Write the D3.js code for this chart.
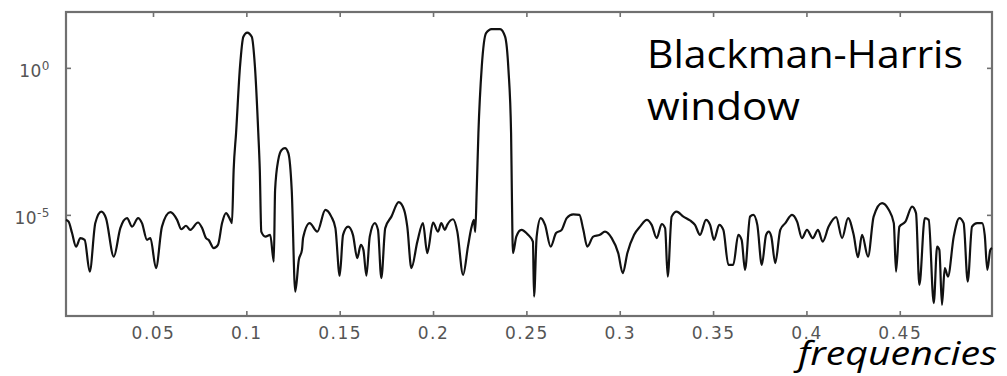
<!DOCTYPE html>
<html lang="en">
<head>
<meta charset="utf-8">
<title>Blackman-Harris window</title>
<script src="https://cdn.jsdelivr.net/npm/d3@7"></script>
<style>
  body { margin: 0; background: #fff; }
  .axis path { display: none; }
  .axis line { stroke: #707070; stroke-width: 1.6px; }
  .axis text { fill: #555; font-family: "DejaVu Sans", sans-serif; font-size: 17px; letter-spacing: 1.5px; }
</style>
</head>
<body>
<script>
// spectrum: frequency, log10(magnitude)
var freq = [0.0034, 0.0048, 0.0066, 0.0088, 0.0111, 0.0134, 0.0161, 0.0191, 0.0223, 0.0248,
  0.0290, 0.0325, 0.0361, 0.0388, 0.0420, 0.0441, 0.0468, 0.0486, 0.0516, 0.0548,
  0.0593, 0.0629, 0.0652, 0.0677, 0.0700, 0.0741, 0.0763, 0.0784, 0.0798, 0.0825,
  0.0848, 0.0870, 0.0891, 0.0914, 0.0923, 0.0932, 0.0945, 0.0966, 0.0984, 0.1005,
  0.1029, 0.1046, 0.1064, 0.1072, 0.1080, 0.1102, 0.1128, 0.1147, 0.1154, 0.1171,
  0.1189, 0.1207, 0.1225, 0.1243, 0.1262, 0.1281, 0.1298, 0.1304, 0.1339, 0.1380,
  0.1423, 0.1455, 0.1477, 0.1500, 0.1518, 0.1545, 0.1571, 0.1594, 0.1613, 0.1627,
  0.1643, 0.1661, 0.1688, 0.1705, 0.1723, 0.1744, 0.1777, 0.1816, 0.1845, 0.1862,
  0.1884, 0.1916, 0.1946, 0.1969, 0.2000, 0.2027, 0.2044, 0.2063, 0.2076, 0.2107,
  0.2130, 0.2161, 0.2187, 0.2205, 0.2219, 0.2226, 0.2234, 0.2243, 0.2261, 0.2284,
  0.2314, 0.2359, 0.2386, 0.2404, 0.2418, 0.2422, 0.2428, 0.2446, 0.2473, 0.2509,
  0.2535, 0.2541, 0.2555, 0.2577, 0.2600, 0.2630, 0.2659, 0.2689, 0.2716, 0.2751,
  0.2784, 0.2805, 0.2826, 0.2858, 0.2894, 0.2921, 0.2957, 0.2992, 0.3016, 0.3041,
  0.3077, 0.3109, 0.3145, 0.3171, 0.3198, 0.3225, 0.3243, 0.3257, 0.3278, 0.3305,
  0.3341, 0.3376, 0.3403, 0.3430, 0.3462, 0.3484, 0.3505, 0.3533, 0.3555, 0.3582,
  0.3608, 0.3635, 0.3653, 0.3671, 0.3698, 0.3716, 0.3737, 0.3761, 0.3784, 0.3798,
  0.3812, 0.3833, 0.3860, 0.3887, 0.3923, 0.3950, 0.3976, 0.4003, 0.4034, 0.4062,
  0.4087, 0.4119, 0.4159, 0.4191, 0.4223, 0.4253, 0.4276, 0.4298, 0.4330, 0.4360,
  0.4405, 0.4441, 0.4468, 0.4480, 0.4498, 0.4530, 0.4566, 0.4587, 0.4605, 0.4634,
  0.4655, 0.4682, 0.4700, 0.4712, 0.4726, 0.4741, 0.4758, 0.4789, 0.4819, 0.4842,
  0.4864, 0.4887, 0.4914, 0.4941, 0.4955, 0.4969, 0.4985, 0.4994];
var logMag = [-5.17, -5.23, -5.61, -6.08, -5.79, -5.85, -6.93, -5.28, -4.89, -5.11,
  -6.42, -5.45, -5.11, -5.40, -5.11, -5.28, -5.85, -5.79, -6.81, -5.40,
  -4.91, -5.17, -5.49, -5.37, -5.51, -5.26, -5.45, -5.79, -5.85, -6.13,
  -6.02, -5.28, -4.94, -5.17, -5.28, -3.47, -2.21, 0.04, 1.06, 1.20,
  1.06, 0.04, -2.22, -3.47, -5.57, -5.74, -5.68, -6.59, -4.15, -3.13,
  -2.79, -2.73, -2.90, -4.15, -7.61, -6.53, -6.19, -5.78, -5.28, -5.57,
  -4.83, -5.06, -5.45, -7.07, -5.68, -5.40, -5.68, -6.47, -6.02, -6.19,
  -7.07, -5.74, -5.28, -5.51, -7.15, -5.45, -5.06, -4.57, -4.83, -5.40,
  -6.81, -5.91, -5.28, -6.30, -5.26, -5.57, -5.28, -5.51, -5.34, -5.15,
  -5.57, -7.04, -6.08, -5.45, -5.17, -5.58, -4.15, -2.22, 0.04, 1.18,
  1.32, 1.32, 1.06, -0.07, -2.21, -4.15, -6.30, -5.74, -5.51, -5.68,
  -5.91, -7.78, -5.74, -5.11, -5.34, -6.08, -5.62, -5.51, -5.11, -4.98,
  -5.00, -5.51, -6.08, -5.74, -5.68, -5.57, -5.79, -6.30, -6.98, -6.30,
  -5.68, -5.40, -5.17, -5.34, -5.79, -5.31, -5.45, -7.10, -5.06, -4.89,
  -5.06, -5.19, -5.34, -5.68, -5.17, -5.34, -5.85, -5.34, -5.51, -6.70,
  -6.70, -5.68, -5.85, -6.87, -5.06, -5.00, -5.34, -6.70, -5.68, -5.57,
  -5.74, -6.64, -5.51, -5.28, -5.00, -5.23, -5.79, -5.51, -5.79, -5.51,
  -5.91, -5.40, -5.08, -5.79, -5.11, -5.68, -6.44, -5.68, -6.42, -5.06,
  -4.60, -4.83, -5.28, -6.93, -5.40, -5.23, -4.72, -4.94, -7.38, -5.11,
  -5.17, -8.00, -6.08, -6.19, -8.06, -6.81, -7.10, -5.74, -5.11, -5.28,
  -7.27, -5.40, -5.28, -5.28, -5.68, -6.87, -6.19, -6.13];

var xTicks = [0.05, 0.1, 0.15, 0.2, 0.25, 0.3, 0.35, 0.4, 0.45];
var xTickLabels = ["0.05", "0.1", "0.15", "0.2", "0.25", "0.3", "0.35", "0.4", "0.45"];
var yTicks = [1, 1e-5];
var yTickExps = ["0", "-5"];

var w = 1007, h = 376;
// plot frame (note: "top" is taken by window.top, so use other names)
var plotL = 66, plotR = 992, plotT = 12, plotB = 316;

var svg = d3.select("body").append("svg").attr("width", w).attr("height", h);

var x = d3.scaleLinear().domain([0.0034, 0.4994]).range([plotL, plotR]);
var y = d3.scaleLog().domain([Math.pow(10, -8.44), Math.pow(10, 1.9)]).range([plotB, plotT]);

var points = freq.map(function(f, i) { return [f, Math.pow(10, logMag[i])]; });

// bottom axis with labels, ticks point inward
svg.append("g").attr("class", "axis")
  .attr("transform", "translate(0," + plotB + ")")
  .call(d3.axisBottom(x).tickValues(xTicks).tickSizeInner(-5).tickSizeOuter(0).tickPadding(11)
    .tickFormat(function(d, i) { return xTickLabels[i]; }));

// top axis, ticks only
svg.append("g").attr("class", "axis")
  .attr("transform", "translate(0," + plotT + ")")
  .call(d3.axisTop(x).tickValues(xTicks).tickSizeInner(-5).tickSizeOuter(0).tickFormat(""));

// left axis with 10^n labels
var yl = svg.append("g").attr("class", "axis")
  .attr("transform", "translate(" + plotL + ",0)")
  .call(d3.axisLeft(y).tickValues(yTicks).tickSizeInner(-5).tickSizeOuter(0).tickPadding(16)
    .tickFormat(""));
yl.selectAll(".tick text").each(function(d, i) {
  var t = d3.select(this).attr("dy", "0.5em").style("letter-spacing", "0.5px");
  t.append("tspan").text("10");
  t.append("tspan").attr("dy", "-0.6em").style("font-size", "12px").text(yTickExps[i]);
});

// right axis, ticks only
svg.append("g").attr("class", "axis")
  .attr("transform", "translate(" + plotR + ",0)")
  .call(d3.axisRight(y).tickValues(yTicks).tickSizeInner(-5).tickSizeOuter(0).tickFormat(""));

// frame
svg.append("rect")
  .attr("x", plotL).attr("y", plotT)
  .attr("width", plotR - plotL).attr("height", plotB - plotT)
  .attr("fill", "none").attr("stroke", "#707070").attr("stroke-width", 2.2);

// spectrum line
var line = d3.line()
  .x(function(d) { return x(d[0]); })
  .y(function(d) { return y(d[1]); })
  .curve(d3.curveMonotoneX);

svg.append("path")
  .datum(points)
  .attr("d", line)
  .attr("fill", "none")
  .attr("stroke", "#111")
  .attr("stroke-width", 2.2)
  .attr("stroke-linejoin", "round");

// annotations
svg.append("text").attr("x", 647).attr("y", 68)
  .attr("font-family", "Open Sans, sans-serif").attr("font-size", 39).attr("fill", "#000")
  .attr("textLength", 316).attr("lengthAdjust", "spacingAndGlyphs")
  .text("Blackman-Harris");
svg.append("text").attr("x", 647).attr("y", 120)
  .attr("font-family", "Open Sans, sans-serif").attr("font-size", 39).attr("fill", "#000")
  .attr("textLength", 153).attr("lengthAdjust", "spacingAndGlyphs")
  .text("window");
svg.append("text").attr("x", 798).attr("y", 365)
  .attr("font-family", "Open Sans, sans-serif").attr("font-size", 33).attr("font-style", "italic")
  .attr("fill", "#000")
  .attr("textLength", 199).attr("lengthAdjust", "spacingAndGlyphs")
  .text("frequencies");
</script>
</body>
</html>
